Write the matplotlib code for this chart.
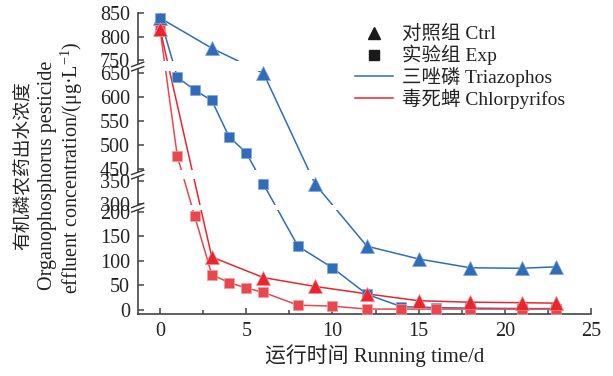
import numpy as np
import matplotlib
matplotlib.use("Agg")
import matplotlib.pyplot as plt
from matplotlib.lines import Line2D

plt.rcParams['font.family'] = ['Liberation Serif', 'Noto Sans CJK SC']
plt.rcParams['mathtext.fontset'] = 'custom'
plt.rcParams['mathtext.rm'] = 'Liberation Serif'
plt.rcParams['mathtext.it'] = 'Liberation Serif:italic'

# sampling days
t_ctrl = [0, 3, 6, 9, 12, 15, 18, 21, 23]
t_exp = [0, 1, 2, 3, 4, 5, 6, 8, 10, 12, 14, 16, 18, 21, 23]

# effluent concentration, ug/L
tri_ctrl = [840, 775, 650, 342, 130, 104, 86, 85, 88]
chl_ctrl = [816, 108, 66, 48, 33, 19, 16, 15, 14]
tri_exp = [840, 642, 615, 593, 517, 483, 342, 130, 86, 32, 7, 5, 4, 3, 3]
chl_exp = [815, 476, 192, 72, 56, 45, 36, 10, 8, 2, 2, 2, 2, 2, 2]

y_ticks = [0, 50, 100, 150, 200, 300, 350, 450, 500, 550, 600, 650, 750, 800, 850]
x_ticks = [0, 5, 10, 15, 20, 25]

# broken y axis: segments 0-200, 300-350, 450-650, 750-850
seg_val = np.array([-100, 0, 200, 300, 350, 450, 650, 750, 850, 950])
seg_pos = np.array([-49.2, 0, 98.3, 106.5, 129.5, 141.5, 236.7, 250.2, 296.7, 343.4])
breaks = [250, 400, 700]
gaps = [(218, 285), (362, 440), (668, 738)]


def fwd(v):
    return np.interp(v, seg_val, seg_pos)


def inv(p):
    return np.interp(p, seg_pos, seg_val)


blue = '#2f6db8'
red_c = '#e8262d'
red_e = '#e8474d'
txt = '#222222'

fig = plt.figure(figsize=(6.13, 3.76), dpi=100)
ax = fig.add_axes([0.2246, 0.1649, 0.7394, 0.7997])
ax.set_yscale('function', functions=(fwd, inv))
ax.set_xlim(-1.3, 25)
ax.set_ylim(-8, 850)

# connecting lines first, markers on top
ax.plot(t_exp, tri_exp, color=blue, lw=1.1, zorder=2)
ax.plot(t_ctrl, tri_ctrl, color=blue, lw=1.1, zorder=2)
ax.plot(t_exp, chl_exp, color=red_e, lw=1.1, zorder=2)
ax.plot(t_ctrl, chl_ctrl, color=red_c, lw=1.1, zorder=2)

# blank out lines inside the axis breaks
for lo, hi in gaps:
    ax.axhspan(lo, hi, xmin=0.01, xmax=1, color='white', lw=0, zorder=2.2)

ax.plot(t_ctrl, tri_ctrl, ls='none', marker='^', ms=9.5, color=blue, mec='#7fa6d8', mew=0.5, zorder=3)
ax.plot(t_exp, tri_exp, ls='none', marker='s', ms=7.5, color=blue, mec='#7fa6d8', mew=0.5, zorder=3)
ax.plot(t_ctrl, chl_ctrl, ls='none', marker='^', ms=9.5, color=red_c, mec='#f08a8d', mew=0.5, zorder=3.2)
ax.plot(t_exp, chl_exp, ls='none', marker='s', ms=7.5, color=red_e, mec='#f29a9c', mew=0.5, zorder=3.1)

for s in ['top', 'right']:
    ax.spines[s].set_visible(False)
for s in ['left', 'bottom']:
    ax.spines[s].set_color('#444444')
    ax.spines[s].set_linewidth(1.2)

ax.set_yticks(y_ticks)
ax.set_yticklabels([str(v) for v in y_ticks])
ax.set_xticks(x_ticks)
ax.set_xticks(np.arange(2.5, 25, 5), minor=True)
ax.tick_params(axis='both', which='major', direction='in', length=4.5, width=1.1,
               color='#444444', labelsize=14.5, labelcolor=txt)
ax.tick_params(axis='x', which='major', pad=5.5)
ax.tick_params(axis='x', which='minor', direction='in', length=3, width=1.1, color='#444444')
ax.tick_params(axis='y', which='minor', left=False)
ax.tick_params(axis='y', pad=5.5)

# break marks on the y axis
ax_h = 300.7
ax_w = 453.0
for b in breaks:
    yb = ax.transAxes.inverted().transform(ax.transData.transform((0, b)))[1]
    dx = 6 / ax_w
    dy = 2.2 / ax_h
    sep = 2.2 / ax_h
    ax.fill([-dx, dx, dx, -dx], [yb - sep - dy, yb - sep + dy, yb + sep + dy, yb + sep - dy],
            transform=ax.transAxes, color='white', lw=0, clip_on=False, zorder=4)
    for off in (-sep, sep):
        ax.plot([-dx, dx], [yb + off - dy, yb + off + dy], transform=ax.transAxes,
                color='#333333', lw=1.0, clip_on=False, zorder=5)

handles = [
    Line2D([], [], ls='none', marker='^', ms=9, color='#1a1a1a'),
    Line2D([], [], ls='none', marker='s', ms=7.5, color='#1a1a1a'),
    Line2D([], [], color=blue, lw=1.1),
    Line2D([], [], color=red_c, lw=1.1),
]
labels = ['对照组 Ctrl', '实验组 Exp', '三唑磷 Triazophos', '毒死蜱 Chlorpyrifos']
leg = ax.legend(handles, labels, loc='upper left', bbox_to_anchor=(0.462, 0.987), frameon=False,
                fontsize=14, handlelength=1.95, handletextpad=0.5, labelspacing=0.08,
                borderaxespad=0)
for t in leg.get_texts():
    t.set_color(txt)

fig.text(0.612, 0.055, '运行时间 Running time/d', ha='center', va='center', fontsize=15, color=txt)
fig.text(0.037, 0.56, '有机磷农药出水浓度', rotation=90, ha='center', va='center', fontsize=13.5, color=txt)
fig.text(0.078, 0.534, 'Organophosphorus pesticide', rotation=90, ha='center', va='center', fontsize=14.5, color=txt)
fig.text(0.118, 0.553, r'effluent concentration/(μg·L$^{-1}$)', rotation=90, ha='center', va='center', fontsize=14.5, color=txt)

fig.savefig('out.png', dpi=100)
